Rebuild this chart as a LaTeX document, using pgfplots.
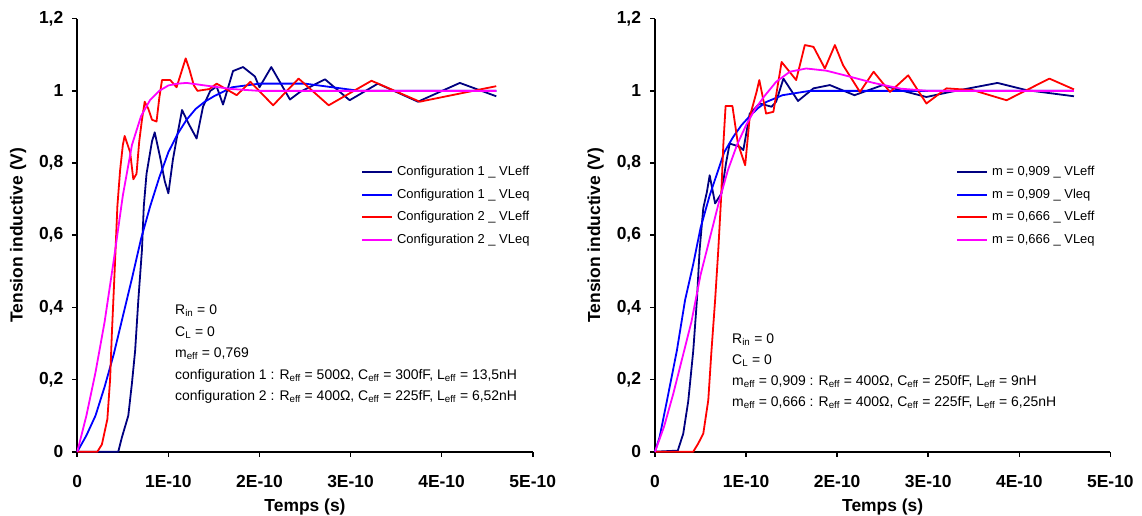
\documentclass[border=0pt]{standalone}
\usepackage{fontspec}
\setmainfont{Liberation Sans}
\usepackage{pgfplots}
\pgfplotsset{compat=1.18}
\definecolor{cnavy}{RGB}{0,0,128}
\definecolor{cblue}{RGB}{0,0,255}
\definecolor{cred}{RGB}{255,0,0}
\definecolor{cmag}{RGB}{255,0,255}
\pgfplotsset{
  myaxis/.style={
    scale only axis, width=455.4bp, height=433bp,
    xmin=0, xmax=5, ymin=0, ymax=1.2,
    axis lines*=left,
    axis line style={line width=1.6bp, black, -},
    tick align=outside, major tick length=5bp,
    major tick style={line width=1.6bp, black},
    xtick={0,1,2,3,4,5}, xticklabels={0,1E-10,2E-10,3E-10,4E-10,5E-10},
    ytick={0,0.2,0.4,0.6,0.8,1,1.2}, yticklabels={0,{0,2},{0,4},{0,6},{0,8},1,{1,2}},
    /pgf/number format/assume math mode=true,
    ticklabel style={font=\fontsize{17.5}{20}\selectfont\bfseries},
    xticklabel style={yshift=-15bp},
    yticklabel style={xshift=-5.5bp},
    xlabel={Temps (s)}, ylabel={Tension inductive (V)},
    xlabel style={at={(axis description cs:0.5,-0.127)}, anchor=center, font=\fontsize{17.5}{20}\selectfont\bfseries},
    ylabel style={at={(axis description cs:-0.1302,0.5)}, anchor=center, font=\fontsize{17.5}{20}\selectfont\bfseries},
    clip=false,
    legend style={draw=none, fill=none, inner sep=0pt, row sep=10bp, column sep=4bp,
      font=\fontsize{13}{15}\selectfont, nodes={inner sep=0pt, text height=9.5bp, text depth=3bp}},
    legend cell align=left,
    legend image code/.code={\draw[##1] (0bp,0bp) -- (30bp,0bp);},
    every axis plot/.append style={line width=1.8bp, line join=round},
  }
}
\begin{document}
\begin{tikzpicture}
\useasboundingbox (0,0) rectangle (1142bp,516bp);
% ---------------- left ----------------
\begin{axis}[myaxis, at={(77.3bp,64.3bp)}, anchor=south west,
  legend style={at={(rel axis cs:0.623,0.66)}, anchor=north west}]
\addplot[cnavy] coordinates {
(0,0) (0.45,0) (0.49,0.04) (0.56,0.1) (0.6,0.19) (0.635,0.28) (0.67,0.42) (0.71,0.56) (0.73,0.68) (0.76,0.77) (0.82,0.86) (0.85,0.885) (0.91,0.815) (0.96,0.75) (1.0,0.716) (1.05,0.81) (1.1,0.88) (1.15,0.947) (1.22,0.91) (1.31,0.868) (1.38,0.956) (1.46,1.0) (1.53,1.012) (1.6,0.962) (1.71,1.055) (1.82,1.066) (1.95,1.04) (2.0,1.01) (2.13,1.066) (2.335,0.976) (2.445,0.997) (2.72,1.032) (2.99,0.974) (3.3,1.02) (3.74,0.97) (4.2,1.022) (4.6,0.985)};
\addlegendentry{Configuration 1 \_ VLeff}
\addplot[cblue] coordinates {
(0,0) (0.1,0.045) (0.2,0.1) (0.3,0.18) (0.4,0.27) (0.5,0.375) (0.6,0.48) (0.7,0.59) (0.8,0.68) (0.9,0.76) (1.0,0.83) (1.1,0.88) (1.2,0.92) (1.3,0.95) (1.4,0.97) (1.5,0.985) (1.7,1.01) (2.0,1.02) (2.5,1.02) (2.8,1.01) (3.1,1.0) (4.6,1.0)};
\addlegendentry{Configuration 1 \_ VLeq}
\addplot[cred] coordinates {
(0,0) (0.22,0) (0.27,0.02) (0.33,0.09) (0.36,0.2) (0.38,0.33) (0.41,0.5) (0.44,0.68) (0.47,0.78) (0.5,0.85) (0.52,0.875) (0.56,0.845) (0.58,0.83) (0.615,0.755) (0.65,0.77) (0.68,0.86) (0.71,0.92) (0.74,0.97) (0.78,0.95) (0.82,0.92) (0.87,0.915) (0.9,0.98) (0.93,1.03) (1.02,1.03) (1.09,1.01) (1.14,1.05) (1.19,1.09) (1.23,1.06) (1.28,1.015) (1.32,1.0) (1.45,1.005) (1.53,1.02) (1.75,0.988) (1.9,1.025) (2.15,0.96) (2.43,1.034) (2.76,0.96) (3.23,1.028) (3.76,0.97) (4.6,1.013)};
\addlegendentry{Configuration 2 \_ VLeff}
\addplot[cmag] coordinates {
(0,0) (0.1,0.1) (0.2,0.22) (0.3,0.36) (0.4,0.53) (0.5,0.71) (0.6,0.85) (0.7,0.93) (0.8,0.975) (0.9,1.0) (1.0,1.015) (1.1,1.02) (1.2,1.022) (1.4,1.015) (1.7,1.005) (2.0,1.0) (4.6,1.0)};
\addlegendentry{Configuration 2 \_ VLeq}
\end{axis}
% ---------------- right ----------------
\begin{axis}[myaxis, at={(655bp,64.3bp)}, anchor=south west,
  legend style={at={(rel axis cs:0.661,0.66)}, anchor=north west}]
\addplot[cnavy] coordinates {
(0,0) (0.25,0.003) (0.31,0.05) (0.365,0.14) (0.42,0.28) (0.46,0.42) (0.49,0.56) (0.53,0.675) (0.57,0.72) (0.6,0.766) (0.66,0.688) (0.73,0.716) (0.78,0.8) (0.82,0.854) (0.93,0.845) (0.97,0.836) (1.04,0.937) (1.15,0.965) (1.28,0.956) (1.33,0.97) (1.41,1.034) (1.57,0.972) (1.74,1.007) (1.92,1.016) (2.19,0.988) (2.5,1.016) (2.69,1.002) (2.98,0.983) (3.24,0.997) (3.76,1.022) (4.08,1.002) (4.6,0.985)};
\addlegendentry{m = 0,909 \_ VLeff}
\addplot[cblue] coordinates {
(0,0) (0.05,0.04) (0.13,0.14) (0.24,0.28) (0.33,0.42) (0.42,0.52) (0.5,0.62) (0.6,0.71) (0.68,0.77) (0.76,0.83) (0.86,0.873) (0.95,0.905) (1.04,0.93) (1.13,0.952) (1.22,0.969) (1.4,0.988) (1.7,1.0) (4.6,1.0)};
\addlegendentry{m = 0,909 \_ Vleq}
\addplot[cred] coordinates {
(0,0) (0.42,0) (0.475,0.023) (0.53,0.05) (0.585,0.143) (0.62,0.28) (0.66,0.42) (0.695,0.56) (0.725,0.70) (0.75,0.85) (0.775,0.958) (0.85,0.958) (0.91,0.854) (0.99,0.794) (1.04,0.928) (1.115,0.997) (1.145,1.03) (1.22,0.937) (1.3,0.942) (1.39,1.08) (1.55,1.03) (1.645,1.127) (1.74,1.122) (1.865,1.062) (1.975,1.127) (2.065,1.071) (2.25,0.997) (2.4,1.053) (2.58,0.997) (2.78,1.043) (2.98,0.965) (3.2,1.007) (3.49,1.002) (3.86,0.974) (4.33,1.034) (4.6,1.004)};
\addlegendentry{m = 0,666 \_ VLeff}
\addplot[cmag] coordinates {
(0,0) (0.1,0.07) (0.2,0.16) (0.3,0.26) (0.4,0.36) (0.5,0.49) (0.6,0.59) (0.7,0.69) (0.8,0.78) (0.9,0.85) (1.0,0.905) (1.1,0.95) (1.2,0.985) (1.33,1.025) (1.48,1.053) (1.66,1.062) (1.88,1.056) (2.1,1.042) (2.4,1.022) (2.7,1.006) (3.0,1.0) (4.6,1.0)};
\addlegendentry{m = 0,666 \_ VLeq}
\end{axis}
% ---------------- annotations ----------------
\begin{scope}[every node/.style={anchor=base west, inner sep=0pt, font=\fontsize{14}{16}\selectfont}]
\node at (175bp,{(516-314.5)*1bp}) {R\textsubscript{in} = 0};
\node at (175bp,{(516-336)*1bp}) {C\textsubscript{L} = 0};
\node at (175bp,{(516-357.5)*1bp}) {m\textsubscript{eff} = 0,769};
\node at (175bp,{(516-379)*1bp}) {configuration 1 : R\textsubscript{eff} = 500Ω, C\textsubscript{eff} = 300fF, L\textsubscript{eff} = 13,5nH};
\node at (175bp,{(516-400.5)*1bp}) {configuration 2 : R\textsubscript{eff} = 400Ω, C\textsubscript{eff} = 225fF, L\textsubscript{eff} = 6,52nH};
\node at (732bp,{(516-343.3)*1bp}) {R\textsubscript{in} = 0};
\node at (732bp,{(516-364.5)*1bp}) {C\textsubscript{L} = 0};
\node at (732bp,{(516-385.5)*1bp}) {m\textsubscript{eff} = 0,909 : R\textsubscript{eff} = 400Ω, C\textsubscript{eff} = 250fF, L\textsubscript{eff} = 9nH};
\node at (732bp,{(516-406.5)*1bp}) {m\textsubscript{eff} = 0,666 : R\textsubscript{eff} = 400Ω, C\textsubscript{eff} = 225fF, L\textsubscript{eff} = 6,25nH};
\end{scope}
\end{tikzpicture}
\end{document}
